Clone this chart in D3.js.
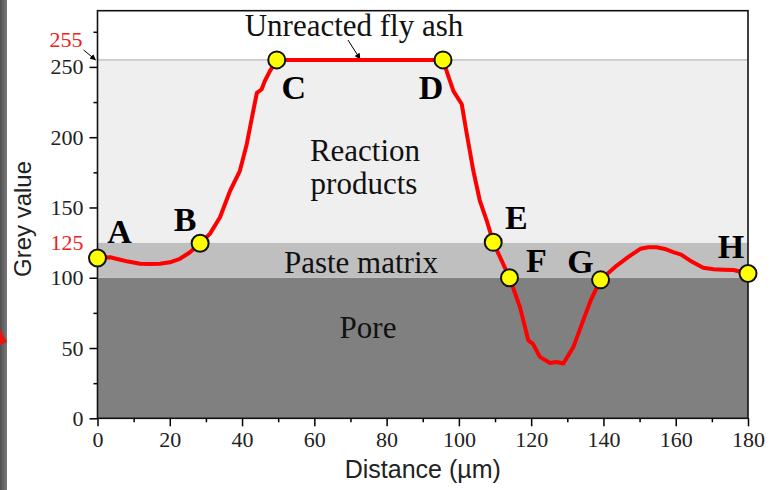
<!DOCTYPE html>
<html>
<head>
<meta charset="utf-8">
<script src="https://cdn.jsdelivr.net/npm/d3@7/dist/d3.min.js"></script>
<style>
  html, body { margin: 0; padding: 0; background: #fff; }
  svg { display: block; }
</style>
</head>
<body>
<svg id="chart" width="776" height="490"></svg>
<script>
// Grey-value profile along a scan line (distance in µm)
const distance = [0, 3.5, 6, 8.5, 11.8, 14.5, 17.3, 20, 22.8, 25.5, 28.4, 31.1, 33.9, 36.7, 39.4, 41.3, 43.1, 44.1, 45.4, 46.3, 47.7, 49.6,
  95.6, 97, 98.5, 100.8, 102.2, 104, 105.8, 107.7, 109.5, 114, 116.9, 119.2, 120.5, 122.4, 125.2, 127, 128.9, 131.7, 134.4, 136.5, 139.2,
  143.7, 147, 150.2, 152.5, 154.7, 157, 159.3, 161.5, 163.9, 167.6, 170.5, 173.2, 176, 180];
const greyValue = [114, 114.6, 113, 111.5, 110, 109.8, 110, 111, 113.5, 118, 124.5, 131.2, 143, 161.9, 176.1, 195, 218.7, 231.6, 234, 240, 247, 255,
  255, 244, 232.8, 223.4, 202.1, 176.1, 154.8, 140.7, 125.2, 100, 79.1, 55.5, 53, 43.7, 39.4, 40, 39, 50.8, 69.7, 84, 98.5,
  108.7, 115, 120.6, 121.7, 121.7, 120.5, 118.2, 116.5, 112.3, 107.1, 106, 105.7, 105.5, 103];

// Marked points along the profile
const pointNames = ["A", "B", "C", "D", "E", "F", "G", "H"];
const pointX = [0, 28.4, 49.6, 95.6, 109.5, 114, 139.2, 180];
const pointY = [114, 124.5, 255, 255, 125.2, 100, 98.5, 103];

// Grey-value ranges of the phases
const phaseNames = ["Pore", "Paste matrix", "Reaction products", "Unreacted fly ash"];
const phaseLow = [0, 100, 125, 255];
const phaseHigh = [100, 125, 255, 290];

// Axis ticks
const yMajorTicks = [0, 50, 100, 150, 200, 250];
const yMinorTicks = [25, 75, 175, 225, 275];
const xMajorTicks = [0, 20, 40, 60, 80, 100, 120, 140, 160, 180];
const xMinorTicks = [10, 30, 50, 70, 90, 110, 130, 150, 170];
const thresholdTicks = [125, 255];

const svg = d3.select("#chart");
const W = 776, H = 490;
const margin = { left: 97.5, right: 28, top: 10.7, bottom: 71.7 };

const x = d3.scaleLinear().domain([0, 180]).range([margin.left, W - margin.right]);
const y = d3.scaleLinear().domain([0, 290]).range([H - margin.bottom, margin.top]);

const serif = "'Liberation Serif', 'Times New Roman', serif";
const sans = "'Liberation Sans', Arial, sans-serif";

// Dark strip on the far left edge
const defs = svg.append("defs");
const edge = defs.append("linearGradient").attr("id", "edgeGrad")
  .attr("x1", 0).attr("x2", 1).attr("y1", 0).attr("y2", 0);
edge.append("stop").attr("offset", "0%").attr("stop-color", "#505050");
edge.append("stop").attr("offset", "100%").attr("stop-color", "#7a7a7a");
svg.append("rect").attr("x", 0).attr("y", 0).attr("width", 7).attr("height", H).attr("fill", "url(#edgeGrad)");
svg.append("path").attr("d", "M0,329 L7,342 L0,345 Z").attr("fill", "#e8140f");

// Phase bands
const bandFill = ["#808080", "#bfbfbf", "#efefef", "#ffffff"];
svg.append("g").selectAll("rect").data(phaseNames).join("rect")
  .attr("x", x(0))
  .attr("width", x(180) - x(0))
  .attr("y", (d, i) => y(phaseHigh[i]))
  .attr("height", (d, i) => y(phaseLow[i]) - y(phaseHigh[i]))
  .attr("fill", (d, i) => bandFill[i]);

// Thin boundary at 255
svg.append("line")
  .attr("x1", x(0)).attr("x2", x(180))
  .attr("y1", y(255)).attr("y2", y(255))
  .attr("stroke", "#b8b8b8").attr("stroke-width", 1.2);

// Axes
function styleAxis(g) {
  g.select(".domain").remove();
  g.attr("font-family", null).attr("font-size", null);
  g.selectAll("line").attr("stroke", "#000").attr("stroke-width", 1.5);
  g.selectAll("text")
    .style("font-family", serif).style("font-size", "22px").attr("fill", "#222");
}

svg.append("g").attr("transform", `translate(${x(0)},0)`)
  .call(d3.axisLeft(y).tickValues(yMajorTicks).tickSize(8).tickPadding(6).tickFormat(d3.format("d")))
  .call(styleAxis);
svg.append("g").attr("transform", `translate(${x(0)},0)`)
  .call(d3.axisLeft(y).tickValues(yMinorTicks).tickSize(4).tickFormat(""))
  .call(styleAxis);

svg.append("g").attr("transform", `translate(0,${y(0)})`)
  .call(d3.axisBottom(x).tickValues(xMajorTicks).tickSize(8).tickPadding(5).tickFormat(d3.format("d")))
  .call(styleAxis);
svg.append("g").attr("transform", `translate(0,${y(0)})`)
  .call(d3.axisBottom(x).tickValues(xMinorTicks).tickSize(4).tickFormat(""))
  .call(styleAxis);

// Red threshold labels
svg.append("text")
  .attr("x", x(0) - 14).attr("y", y(thresholdTicks[0])).attr("dy", "0.32em")
  .attr("text-anchor", "end").style("font-family", serif).style("font-size", "22px").attr("fill", "#ee2020")
  .text(thresholdTicks[0]);
svg.append("text")
  .attr("x", x(0) - 15).attr("y", y(thresholdTicks[1]) - 20).attr("dy", "0.32em")
  .attr("text-anchor", "end").style("font-family", serif).style("font-size", "22px").attr("fill", "#ee2020")
  .text(thresholdTicks[1]);

// Arrow marker
defs.append("marker").attr("id", "arrowHead")
  .attr("viewBox", "0 0 10 10").attr("refX", 9).attr("refY", 5)
  .attr("markerWidth", 6).attr("markerHeight", 6).attr("orient", "auto")
  .append("path").attr("d", "M0,0 L10,5 L0,10 Z").attr("fill", "#000");

svg.append("line")
  .attr("x1", x(0) - 14).attr("y1", y(255) - 10)
  .attr("x2", x(0) - 2).attr("y2", y(255))
  .attr("stroke", "#000").attr("stroke-width", 1)
  .attr("marker-end", "url(#arrowHead)");

// Frame
svg.append("rect")
  .attr("x", x(0)).attr("y", y(290))
  .attr("width", x(180) - x(0)).attr("height", y(0) - y(290))
  .attr("fill", "none").attr("stroke", "#111").attr("stroke-width", 1.6);

// Phase names
const ann = svg.append("g").style("font-family", serif).style("font-size", "31px").attr("fill", "#111").attr("text-anchor", "middle");
ann.append("text").attr("x", 354).attr("y", 36).text(phaseNames[3]);
ann.append("text").attr("x", 365).attr("y", 161).text("Reaction");
ann.append("text").attr("x", 364).attr("y", 194).text("products");
ann.append("text").attr("x", 361).attr("y", 273).text(phaseNames[1]);
ann.append("text").attr("x", 368).attr("y", 338).text(phaseNames[0]);

// Pointer from the fly-ash label to the plateau
svg.append("line")
  .attr("x1", 348).attr("y1", 40)
  .attr("x2", 360).attr("y2", y(255) - 1)
  .attr("stroke", "#000").attr("stroke-width", 1)
  .attr("marker-end", "url(#arrowHead)");

// Profile line
const line = d3.line().x((d, i) => x(distance[i])).y((d, i) => y(greyValue[i]));
svg.append("path")
  .datum(distance)
  .attr("d", line)
  .attr("fill", "none")
  .attr("stroke", "#ff0000")
  .attr("stroke-width", 4)
  .attr("stroke-linejoin", "round")
  .attr("stroke-linecap", "round");

// Marked points
svg.append("g").selectAll("circle").data(pointNames).join("circle")
  .attr("cx", (d, i) => x(pointX[i]))
  .attr("cy", (d, i) => y(pointY[i]))
  .attr("r", 8.5)
  .attr("fill", "#ffff00")
  .attr("stroke", "#111")
  .attr("stroke-width", 2);

// Point letters, offset from each point
const letterOffset = {
  A: [22, -15], B: [-15, -12], C: [17, 39], D: [-12, 39],
  E: [23, -13], F: [27, -6], G: [-20, -7], H: [-17, -16]
};
svg.append("g").selectAll("text").data(pointNames).join("text")
  .attr("x", (d, i) => x(pointX[i]) + letterOffset[d][0])
  .attr("y", (d, i) => y(pointY[i]) + letterOffset[d][1])
  .attr("text-anchor", "middle")
  .style("font-family", serif)
  .style("font-weight", "bold")
  .style("font-size", "34px")
  .attr("fill", "#000")
  .text(d => d);

// Axis titles
svg.append("text")
  .attr("x", (x(0) + x(180)) / 2).attr("y", 478)
  .attr("text-anchor", "middle").style("font-family", sans).style("font-size", "25px").attr("fill", "#222")
  .text("Distance (µm)");
svg.append("text")
  .attr("transform", "translate(31,219) rotate(-90)")
  .attr("text-anchor", "middle").style("font-family", sans).style("font-size", "24px").attr("fill", "#222")
  .text("Grey value");
</script>
</body>
</html>
